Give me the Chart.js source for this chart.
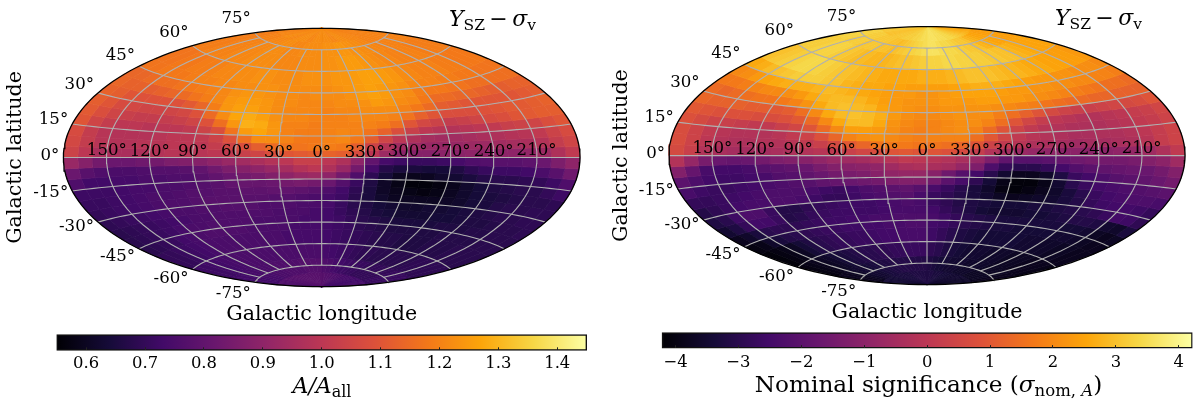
<!DOCTYPE html>
<html>
<head>
<meta charset="utf-8">
<title>Sky maps</title>
<script src="https://cdn.jsdelivr.net/npm/chart.js@4"></script>
<style>
body { margin: 0; background: #fff; }
#page { position: relative; width: 1200px; height: 407px; overflow: hidden; }
canvas { position: absolute; }
</style>
</head>
<body>
<div id="page">
<canvas id="mapLeft" style="left:0;top:0"></canvas>
<canvas id="mapRight" style="left:600px;top:0"></canvas>
<canvas id="barLeft" style="left:0;top:325px"></canvas>
<canvas id="barRight" style="left:600px;top:325px"></canvas>
</div>
<script>
// cell centres and band edges, degrees. longitude runs left to right across the map
const lonBands = [-175,-165,-155,-145,-135,-125,-115,-105,-95,-85,-75,-65,-55,-45,-35,-25,-15,-5,5,15,25,35,45,55,65,75,85,95,105,115,125,135,145,155,165,175];
const latEdges = [90,80,70,60,50,45,40,35,30,25,20,15,10,5,0,-5,-10,-15,-20,-25,-30,-35,-40,-45,-50,-60,-70,-80,-90];
const lonTicks = [150,120,90,60,30,0,330,300,270,240,210];
const latTicks = [75,60,45,30,15,0,-15,-30,-45,-60,-75];
const ampTicks = [0.6,0.7,0.8,0.9,1.0,1.1,1.2,1.3,1.4];
const sigTicks = [-4,-3,-2,-1,0,1,2,3,4];

// A/A_all per band
const ampN85 = [1.20,1.20,1.21,1.21,1.21,1.22,1.22,1.21,1.21,1.22,1.22,1.22,1.22,1.21,1.21,1.22,1.22,1.22,1.22,1.22,1.22,1.21,1.21,1.22,1.22,1.22,1.21,1.21,1.21,1.21,1.20,1.20,1.20,1.20,1.20,1.20];
const ampN75 = [1.19,1.19,1.20,1.20,1.20,1.21,1.21,1.21,1.22,1.22,1.22,1.21,1.21,1.21,1.22,1.22,1.22,1.22,1.23,1.23,1.23,1.24,1.24,1.23,1.23,1.22,1.22,1.21,1.21,1.20,1.20,1.20,1.20,1.20,1.20,1.20];
const ampN65 = [1.19,1.19,1.20,1.20,1.20,1.21,1.21,1.21,1.22,1.22,1.22,1.22,1.21,1.21,1.21,1.22,1.22,1.22,1.23,1.23,1.24,1.25,1.25,1.24,1.23,1.22,1.21,1.21,1.20,1.20,1.20,1.20,1.19,1.19,1.19,1.19];
const ampN55 = [1.17,1.17,1.18,1.18,1.19,1.19,1.20,1.21,1.21,1.22,1.22,1.23,1.23,1.22,1.22,1.22,1.23,1.23,1.23,1.24,1.24,1.25,1.26,1.26,1.25,1.24,1.22,1.21,1.20,1.20,1.20,1.19,1.19,1.18,1.18,1.18];
const ampN47 = [1.17,1.17,1.18,1.18,1.18,1.19,1.20,1.20,1.21,1.21,1.22,1.22,1.23,1.23,1.22,1.22,1.22,1.22,1.22,1.23,1.24,1.25,1.26,1.25,1.24,1.23,1.21,1.20,1.20,1.19,1.19,1.18,1.18,1.17,1.17,1.17];
const ampN42 = [1.14,1.14,1.15,1.16,1.16,1.17,1.18,1.19,1.20,1.21,1.23,1.24,1.24,1.23,1.22,1.22,1.21,1.22,1.22,1.22,1.23,1.25,1.26,1.25,1.23,1.22,1.19,1.18,1.18,1.17,1.17,1.16,1.16,1.16,1.16,1.16];
const ampN37 = [1.14,1.13,1.13,1.12,1.13,1.14,1.15,1.17,1.19,1.21,1.24,1.25,1.25,1.24,1.22,1.22,1.21,1.21,1.21,1.22,1.22,1.23,1.25,1.24,1.22,1.21,1.18,1.15,1.15,1.14,1.14,1.13,1.12,1.12,1.13,1.13];
const ampN32 = [1.13,1.12,1.10,1.09,1.09,1.09,1.09,1.11,1.14,1.19,1.24,1.26,1.26,1.24,1.22,1.21,1.21,1.21,1.20,1.21,1.21,1.22,1.22,1.22,1.20,1.18,1.15,1.12,1.11,1.10,1.10,1.10,1.10,1.10,1.11,1.12];
const ampN27 = [1.12,1.10,1.07,1.06,1.05,1.05,1.05,1.06,1.09,1.15,1.22,1.27,1.28,1.26,1.23,1.21,1.21,1.20,1.20,1.20,1.21,1.21,1.21,1.20,1.17,1.13,1.10,1.08,1.08,1.08,1.09,1.10,1.11,1.11,1.12,1.13];
const ampN22 = [1.11,1.08,1.05,1.03,1.02,1.02,1.02,1.03,1.05,1.09,1.16,1.24,1.29,1.28,1.24,1.20,1.20,1.19,1.20,1.20,1.20,1.20,1.19,1.16,1.10,1.06,1.04,1.02,1.03,1.05,1.07,1.08,1.10,1.11,1.12,1.12];
const ampN17 = [1.10,1.05,1.02,1.00,1.00,0.99,1.00,1.00,1.01,1.04,1.08,1.17,1.25,1.27,1.24,1.20,1.19,1.19,1.20,1.21,1.20,1.17,1.13,1.08,1.03,1.00,0.99,0.98,0.99,1.00,1.01,1.03,1.04,1.05,1.08,1.10];
const ampN12 = [1.07,1.02,0.99,0.98,0.98,0.98,0.99,1.00,1.00,1.01,1.04,1.09,1.16,1.22,1.22,1.20,1.18,1.18,1.20,1.21,1.18,1.12,1.05,1.00,0.97,0.95,0.94,0.94,0.95,0.96,0.97,0.98,0.99,1.01,1.04,1.07];
const ampN07 = [1.06,1.02,0.99,0.98,0.98,0.99,0.99,1.00,1.00,1.00,1.02,1.05,1.08,1.12,1.15,1.17,1.17,1.18,1.19,1.18,1.12,1.04,0.98,0.94,0.93,0.92,0.92,0.92,0.93,0.93,0.94,0.95,0.96,0.98,1.02,1.05];
const ampN02 = [1.04,1.00,0.96,0.96,0.96,0.97,0.98,0.99,0.99,0.99,1.00,1.01,1.03,1.05,1.08,1.10,1.11,1.12,1.13,1.12,1.07,1.00,0.93,0.89,0.88,0.88,0.89,0.89,0.90,0.90,0.90,0.90,0.91,0.93,0.97,1.01];
const ampS02 = [0.92,0.88,0.84,0.82,0.82,0.83,0.84,0.86,0.87,0.88,0.90,0.92,0.94,0.96,0.98,1.00,1.03,1.03,1.00,0.97,0.90,0.80,0.74,0.72,0.71,0.71,0.72,0.74,0.76,0.77,0.78,0.78,0.79,0.82,0.86,0.90];
const ampS07 = [0.82,0.78,0.76,0.75,0.75,0.76,0.77,0.77,0.78,0.80,0.83,0.86,0.88,0.90,0.92,0.95,0.98,1.00,0.97,0.92,0.84,0.74,0.67,0.65,0.65,0.64,0.64,0.66,0.69,0.71,0.72,0.72,0.73,0.75,0.78,0.83];
const ampS12 = [0.76,0.73,0.73,0.74,0.74,0.75,0.75,0.76,0.76,0.78,0.80,0.82,0.84,0.85,0.87,0.90,0.92,0.93,0.90,0.84,0.76,0.69,0.64,0.60,0.59,0.60,0.62,0.63,0.65,0.67,0.68,0.68,0.69,0.70,0.72,0.76];
const ampS17 = [0.72,0.72,0.72,0.73,0.74,0.74,0.75,0.75,0.76,0.77,0.78,0.80,0.81,0.81,0.82,0.84,0.85,0.84,0.82,0.77,0.71,0.66,0.61,0.58,0.56,0.56,0.57,0.59,0.62,0.64,0.66,0.67,0.68,0.68,0.70,0.72];
const ampS22 = [0.71,0.71,0.72,0.73,0.74,0.75,0.75,0.76,0.77,0.77,0.78,0.78,0.79,0.79,0.80,0.80,0.79,0.78,0.76,0.73,0.69,0.65,0.61,0.59,0.58,0.57,0.58,0.60,0.62,0.64,0.65,0.66,0.67,0.68,0.68,0.69];
const ampS27 = [0.70,0.71,0.72,0.73,0.74,0.75,0.76,0.76,0.77,0.78,0.78,0.78,0.78,0.78,0.77,0.77,0.76,0.75,0.74,0.72,0.68,0.65,0.62,0.60,0.60,0.60,0.60,0.61,0.62,0.64,0.65,0.67,0.68,0.68,0.69,0.69];
const ampS32 = [0.69,0.70,0.71,0.72,0.73,0.74,0.75,0.75,0.76,0.76,0.77,0.77,0.77,0.76,0.76,0.76,0.75,0.75,0.74,0.71,0.68,0.66,0.64,0.63,0.62,0.62,0.63,0.63,0.64,0.65,0.66,0.67,0.68,0.68,0.69,0.69];
const ampS37 = [0.68,0.69,0.70,0.71,0.72,0.73,0.74,0.75,0.75,0.76,0.76,0.76,0.76,0.76,0.75,0.75,0.75,0.74,0.73,0.71,0.69,0.67,0.65,0.64,0.63,0.63,0.63,0.64,0.64,0.65,0.66,0.66,0.67,0.68,0.68,0.69];
const ampS42 = [0.68,0.69,0.70,0.71,0.72,0.74,0.75,0.75,0.76,0.76,0.76,0.76,0.75,0.75,0.75,0.75,0.74,0.74,0.73,0.72,0.70,0.68,0.67,0.66,0.65,0.65,0.65,0.65,0.66,0.66,0.66,0.67,0.67,0.68,0.68,0.68];
const ampS47 = [0.68,0.69,0.70,0.71,0.73,0.74,0.75,0.76,0.76,0.76,0.76,0.75,0.75,0.75,0.75,0.74,0.74,0.74,0.73,0.72,0.71,0.69,0.68,0.67,0.66,0.66,0.66,0.66,0.66,0.67,0.67,0.67,0.67,0.68,0.68,0.68];
const ampS55 = [0.70,0.70,0.71,0.72,0.73,0.74,0.75,0.75,0.75,0.75,0.75,0.75,0.75,0.75,0.74,0.74,0.74,0.74,0.73,0.72,0.71,0.70,0.69,0.68,0.67,0.67,0.66,0.66,0.66,0.67,0.67,0.67,0.68,0.68,0.68,0.68];
const ampS65 = [0.72,0.72,0.73,0.73,0.74,0.74,0.75,0.75,0.75,0.75,0.75,0.75,0.75,0.75,0.75,0.75,0.75,0.75,0.74,0.73,0.72,0.71,0.70,0.69,0.69,0.68,0.68,0.68,0.68,0.68,0.68,0.69,0.69,0.69,0.69,0.69];
const ampS75 = [0.73,0.73,0.73,0.74,0.74,0.74,0.75,0.75,0.75,0.76,0.76,0.76,0.76,0.76,0.77,0.77,0.77,0.77,0.76,0.75,0.74,0.73,0.72,0.72,0.71,0.71,0.70,0.70,0.70,0.70,0.70,0.70,0.71,0.71,0.71,0.71];
const ampS85 = [0.76,0.76,0.76,0.76,0.77,0.77,0.77,0.77,0.78,0.78,0.78,0.78,0.78,0.78,0.78,0.78,0.78,0.78,0.78,0.77,0.77,0.76,0.76,0.75,0.75,0.74,0.74,0.74,0.74,0.73,0.73,0.73,0.73,0.74,0.74,0.74];
const ampRows = [ampN85,ampN75,ampN65,ampN55,ampN47,ampN42,ampN37,ampN32,ampN27,ampN22,ampN17,ampN12,ampN07,ampN02,ampS02,ampS07,ampS12,ampS17,ampS22,ampS27,ampS32,ampS37,ampS42,ampS47,ampS55,ampS65,ampS75,ampS85];

// nominal significance per band
const sigN85 = [3.1,3.1,3.1,3.0,3.0,3.0,3.05,3.1,3.1,3.1,3.2,3.2,3.2,3.3,3.3,3.4,3.5,3.5,3.6,3.6,3.6,3.5,3.5,3.5,3.4,3.4,3.3,3.2,3.1,3.0,2.9,2.8,2.7,2.6,2.5,2.5];
const sigN75 = [3.3,3.3,3.2,3.2,3.2,3.1,3.1,3.1,3.1,3.0,3.0,2.9,3.0,3.1,3.2,3.3,3.4,3.5,3.6,3.6,3.5,3.4,3.4,3.3,3.2,3.1,3.1,3.0,2.8,2.7,2.6,2.5,2.5,2.4,2.4,2.4];
const sigN65 = [3.2,3.2,3.3,3.3,3.3,3.2,3.1,3.0,2.9,2.9,2.8,2.8,2.8,2.9,3.0,3.0,3.1,3.2,3.3,3.3,3.4,3.4,3.3,3.3,3.2,3.2,3.1,3.1,3.0,3.0,2.8,2.7,2.6,2.5,2.5,2.5];
const sigN55 = [3.0,3.1,3.2,3.3,3.4,3.4,3.3,3.2,3.1,3.0,2.9,2.8,2.7,2.6,2.6,2.6,2.6,2.7,2.7,2.7,2.8,2.9,3.0,3.0,3.0,2.9,2.8,2.8,2.7,2.6,2.6,2.5,2.5,2.4,2.4,2.3];
const sigN47 = [2.6,2.7,2.9,3.0,3.1,3.2,3.2,3.2,3.1,3.0,2.8,2.7,2.6,2.6,2.5,2.5,2.4,2.4,2.4,2.4,2.5,2.6,2.7,2.7,2.7,2.6,2.5,2.4,2.3,2.3,2.2,2.2,2.1,2.1,2.1,2.0];
const sigN42 = [2.0,2.1,2.3,2.5,2.6,2.7,2.7,2.7,2.8,2.9,2.8,2.7,2.6,2.5,2.4,2.3,2.3,2.2,2.2,2.3,2.4,2.5,2.5,2.5,2.4,2.3,2.3,2.2,2.2,2.1,2.1,2.0,2.0,1.9,1.9,1.8];
const sigN37 = [1.7,1.7,1.8,1.9,2.0,2.0,2.1,2.3,2.6,2.8,2.9,2.9,2.8,2.6,2.4,2.3,2.2,2.2,2.2,2.3,2.3,2.3,2.4,2.4,2.3,2.3,2.2,2.1,2.0,1.9,1.8,1.7,1.6,1.5,1.5,1.4];
const sigN32 = [1.4,1.3,1.4,1.5,1.6,1.6,1.7,1.9,2.2,2.6,2.9,3.0,2.9,2.8,2.5,2.3,2.2,2.1,2.1,2.2,2.2,2.2,2.2,2.1,2.0,1.9,1.8,1.6,1.5,1.4,1.4,1.3,1.3,1.2,1.2,1.2];
const sigN27 = [1.3,1.2,1.2,1.2,1.1,1.1,1.0,1.1,1.5,2.0,2.6,2.9,3.0,2.9,2.7,2.3,2.1,2.0,2.0,2.1,2.2,2.1,2.1,1.8,1.5,1.2,0.9,0.6,0.4,0.3,0.3,0.4,0.5,0.6,0.7,0.9];
const sigN22 = [1.0,0.9,0.8,0.8,0.8,0.7,0.7,0.8,1.0,1.4,2.0,2.6,2.9,2.9,2.6,2.2,2.0,1.9,1.9,2.0,2.1,2.1,1.9,1.5,0.9,0.5,0.2,0.0,-0.1,-0.2,-0.2,-0.1,0.0,0.2,0.3,0.5];
const sigN17 = [0.8,0.6,0.4,0.3,0.2,0.1,0.1,0.3,0.5,0.9,1.4,2.0,2.4,2.4,2.3,2.1,1.9,1.8,1.9,2.0,2.1,1.9,1.4,0.9,0.4,0.1,-0.1,-0.2,-0.3,-0.3,-0.3,-0.2,-0.1,0.1,0.2,0.4];
const sigN12 = [0.7,0.4,0.1,-0.1,-0.2,-0.2,-0.2,-0.1,0.1,0.4,0.8,1.3,1.9,2.1,2.2,2.0,1.9,1.8,1.9,1.9,1.9,1.5,1.0,0.5,0.1,-0.1,-0.2,-0.3,-0.4,-0.4,-0.3,-0.3,-0.2,0.0,0.2,0.4];
const sigN07 = [0.7,0.4,0.0,-0.2,-0.3,-0.3,-0.2,-0.2,-0.1,0.1,0.3,0.6,1.0,1.3,1.6,1.7,1.7,1.6,1.6,1.5,1.3,0.9,0.4,0.1,-0.1,-0.3,-0.4,-0.5,-0.6,-0.5,-0.5,-0.4,-0.3,-0.1,0.2,0.4];
const sigN02 = [0.6,0.3,-0.2,-0.4,-0.5,-0.5,-0.5,-0.4,-0.3,-0.2,-0.1,0.1,0.3,0.5,0.7,0.9,1.0,0.9,0.9,0.8,0.6,0.2,-0.2,-0.5,-0.7,-0.8,-0.9,-1.0,-1.0,-1.0,-1.0,-0.9,-0.8,-0.6,-0.3,0.1];
const sigS02 = [-0.2,-0.8,-1.4,-1.7,-1.8,-1.7,-1.5,-1.3,-1.2,-1.1,-0.9,-0.7,-0.6,-0.5,-0.3,-0.1,0.1,0.0,-0.1,-0.2,-0.4,-0.8,-1.3,-1.9,-2.1,-2.1,-2.0,-1.8,-1.6,-1.5,-1.5,-1.5,-1.4,-1.2,-1.0,-0.6];
const sigS07 = [-1.2,-1.8,-2.4,-2.5,-2.5,-2.4,-2.1,-2.0,-1.9,-1.7,-1.4,-1.2,-1.1,-1.0,-0.9,-0.6,-0.4,-0.3,-0.4,-0.5,-0.8,-1.3,-2.3,-2.8,-3.0,-3.0,-2.8,-2.5,-2.2,-2.0,-1.9,-1.8,-1.7,-1.7,-1.5,-1.2];
const sigS12 = [-2.0,-2.3,-2.5,-2.6,-2.6,-2.5,-2.4,-2.2,-2.1,-1.9,-1.7,-1.5,-1.4,-1.3,-1.1,-0.9,-0.8,-0.8,-1.1,-1.6,-2.1,-2.5,-3.0,-3.5,-3.8,-3.8,-3.6,-3.2,-2.7,-2.5,-2.3,-2.1,-2.0,-1.9,-1.7,-1.5];
const sigS17 = [-2.4,-2.6,-2.7,-2.7,-2.6,-2.5,-2.4,-2.3,-2.2,-2.1,-1.9,-1.8,-1.7,-1.6,-1.5,-1.3,-1.2,-1.2,-1.5,-2.0,-2.4,-2.9,-3.4,-3.9,-4.1,-4.1,-3.9,-3.5,-3.0,-2.7,-2.5,-2.4,-2.3,-2.2,-2.1,-2.0];
const sigS22 = [-2.8,-2.8,-2.7,-2.6,-2.5,-2.4,-2.3,-2.3,-2.3,-2.4,-2.6,-2.7,-2.5,-2.3,-2.2,-2.0,-1.9,-2.1,-2.4,-2.7,-3.0,-3.3,-3.6,-4.0,-4.1,-4.0,-3.8,-3.6,-3.3,-3.0,-2.7,-2.5,-2.4,-2.3,-2.3,-2.4];
const sigS27 = [-3.1,-2.9,-2.7,-2.5,-2.4,-2.4,-2.3,-2.3,-2.4,-2.6,-2.8,-2.8,-2.6,-2.4,-2.3,-2.2,-2.1,-2.4,-2.7,-2.9,-3.1,-3.3,-3.5,-3.7,-3.8,-3.7,-3.6,-3.5,-3.3,-3.1,-2.8,-2.6,-2.5,-2.5,-2.6,-2.8];
const sigS32 = [-3.2,-3.0,-2.6,-2.3,-2.3,-2.7,-3.1,-3.1,-2.9,-2.8,-2.7,-2.6,-2.6,-2.6,-2.5,-2.4,-2.3,-2.4,-2.7,-2.9,-3.1,-3.2,-3.3,-3.4,-3.4,-3.4,-3.3,-3.3,-3.2,-3.1,-3.0,-2.9,-2.7,-2.5,-2.6,-2.9];
const sigS37 = [-3.5,-3.2,-2.8,-2.5,-2.5,-2.7,-3.1,-3.0,-2.8,-2.7,-2.6,-2.6,-2.6,-2.6,-2.5,-2.4,-2.4,-2.4,-2.5,-2.8,-3.0,-3.2,-3.4,-3.5,-3.5,-3.5,-3.4,-3.4,-3.3,-3.2,-3.1,-3.1,-3.2,-3.5,-3.6,-3.3];
const sigS42 = [-3.8,-3.6,-3.3,-3.0,-2.9,-2.9,-2.9,-2.8,-2.7,-2.6,-2.6,-2.5,-2.5,-2.4,-2.4,-2.3,-2.3,-2.3,-2.4,-2.6,-2.8,-3.0,-3.1,-3.2,-3.3,-3.3,-3.3,-3.3,-3.3,-3.3,-3.4,-3.4,-3.5,-3.7,-3.8,-3.7];
const sigS47 = [-4.0,-3.9,-3.6,-3.3,-3.1,-3.0,-2.9,-2.8,-2.7,-2.7,-2.6,-2.6,-2.5,-2.5,-2.4,-2.4,-2.3,-2.3,-2.5,-2.6,-2.8,-3.0,-3.1,-3.2,-3.3,-3.3,-3.4,-3.4,-3.4,-3.4,-3.5,-3.5,-3.6,-3.7,-3.8,-3.8];
const sigS55 = [-4.1,-4.0,-3.9,-3.7,-3.4,-3.2,-3.0,-2.9,-2.8,-2.8,-2.7,-2.7,-2.6,-2.5,-2.5,-2.4,-2.4,-2.4,-2.6,-2.8,-3.0,-3.2,-3.3,-3.4,-3.4,-3.4,-3.4,-3.4,-3.5,-3.5,-3.6,-3.6,-3.7,-3.7,-3.8,-3.8];
const sigS65 = [-4.0,-3.9,-3.8,-3.7,-3.6,-3.4,-3.3,-3.2,-3.1,-3.0,-3.0,-2.9,-2.9,-2.8,-2.8,-2.7,-2.7,-2.7,-2.9,-3.0,-3.2,-3.3,-3.4,-3.5,-3.5,-3.5,-3.6,-3.6,-3.6,-3.7,-3.7,-3.7,-3.8,-3.8,-3.8,-3.9];
const sigS75 = [-3.8,-3.8,-3.7,-3.6,-3.5,-3.5,-3.4,-3.3,-3.3,-3.2,-3.2,-3.1,-3.1,-3.1,-3.1,-3.1,-3.1,-3.1,-3.2,-3.3,-3.4,-3.4,-3.5,-3.5,-3.5,-3.6,-3.6,-3.6,-3.6,-3.7,-3.7,-3.7,-3.7,-3.7,-3.8,-3.8];
const sigS85 = [-3.4,-3.4,-3.4,-3.4,-3.4,-3.4,-3.3,-3.3,-3.3,-3.3,-3.3,-3.3,-3.2,-3.2,-3.2,-3.2,-3.2,-3.2,-3.2,-3.2,-3.3,-3.3,-3.3,-3.4,-3.4,-3.4,-3.5,-3.5,-3.5,-3.5,-3.5,-3.6,-3.6,-3.6,-3.6,-3.6];
const sigRows = [sigN85,sigN75,sigN65,sigN55,sigN47,sigN42,sigN37,sigN32,sigN27,sigN22,sigN17,sigN12,sigN07,sigN02,sigS02,sigS07,sigS12,sigS17,sigS22,sigS27,sigS32,sigS37,sigS42,sigS47,sigS55,sigS65,sigS75,sigS85];

const inferno = ['#000004','#160b39','#420a68','#6a176e','#932667','#bc3754','#dd513a','#f37819','#fca50a','#f6d746','#fcffa4'];

const SERIF = '"DejaVu Serif"';
Chart.defaults.font.family = SERIF;
Chart.defaults.color = '#000';

function colorFor(value, min, max) {
    let t = Math.min(1, Math.max(0, (value - min) / (max - min))) * (inferno.length - 1);
    let i = Math.min(inferno.length - 2, Math.floor(t));
    let a = inferno[i], b = inferno[i + 1], f = t - i;
    let mix = [1, 3, 5].map(p => {
        let ca = parseInt(a.substr(p, 2), 16), cb = parseInt(b.substr(p, 2), 16);
        return Math.round(ca + (cb - ca) * f);
    });
    return 'rgb(' + mix.join(',') + ')';
}

// aitoff projection, degrees in, plot units out
function project(lon, lat) {
    let l = lon * Math.PI / 180, p = lat * Math.PI / 180;
    let alpha = Math.acos(Math.cos(p) * Math.cos(l / 2));
    let sinc = alpha < 1e-6 ? 1 : Math.sin(alpha) / alpha;
    return { x: 2 * Math.cos(p) * Math.sin(l / 2) / sinc, y: Math.sin(p) / sinc };
}

function cellShape(lon, top, bottom) {
    let pts = [];
    for (let d = -5; d <= 5; d += 5) pts.push(project(lon + d, bottom));
    for (let d = 5; d >= -5; d -= 5) pts.push(project(lon + d, top));
    pts.push(pts[0]);
    return pts;
}

function lineData(fn, from, to, step) {
    let pts = [];
    for (let v = from; v <= to; v += step) pts.push(fn(v));
    return pts;
}

function lineSet(points, color, width) {
    return { data: points, showLine: true, borderColor: color, borderWidth: width, pointRadius: 0, fill: false, tension: 0, clip: false };
}

// writes a row of mixed font pieces, centred or from the left
function drawRuns(ctx, runs, x, y, centred) {
    ctx.save();
    ctx.textAlign = 'left';
    ctx.textBaseline = 'alphabetic';
    ctx.fillStyle = '#000';
    let total = 0;
    runs.forEach(r => { ctx.font = r.font; total += ctx.measureText(r.text).width; });
    let cx = centred ? x - total / 2 : x;
    runs.forEach(r => {
        ctx.font = r.font;
        ctx.fillText(r.text, cx, y + (r.dy || 0));
        cx += ctx.measureText(r.text).width;
    });
    ctx.restore();
}

const mapLabels = {
    id: 'mapLabels',
    afterDatasetsDraw(chart) {
        let ctx = chart.ctx, sx = chart.scales.x, sy = chart.scales.y;
        ctx.save();
        ctx.fillStyle = '#000';
        ctx.font = '16.6px ' + SERIF;
        ctx.textAlign = 'center';
        ctx.textBaseline = 'middle';
        lonTicks.forEach(l => {
            let p = project(l <= 180 ? -l : 360 - l, 3.6);
            ctx.fillText(l + '°', sx.getPixelForValue(p.x), sy.getPixelForValue(p.y));
        });
        ctx.textAlign = 'right';
        latTicks.forEach(b => {
            let p = project(-180, b);
            let lift = 1.5 + 13 * Math.sin(b * Math.PI / 180);
            ctx.fillText(b + '°', sx.getPixelForValue(p.x) - 4, sy.getPixelForValue(p.y) - lift);
        });
        ctx.restore();
        let o = chart.options.plugins.mapLabels;
        drawRuns(ctx, [
            { text: 'Y', font: 'italic 22px ' + SERIF },
            { text: 'SZ', font: '15.5px ' + SERIF, dy: 4 },
            { text: '\u2009−\u2009', font: '22px ' + SERIF },
            { text: 'σ', font: 'italic 22px ' + SERIF },
            { text: 'v', font: '15.5px ' + SERIF, dy: 4 }
        ], o.noteX, o.noteY, false);
    }
};

const barTitle = {
    id: 'barTitle',
    afterDraw(chart) {
        let o = chart.options.plugins.barTitle;
        drawRuns(chart.ctx, o.runs, o.x, o.y, true);
    }
};

function drawMap(id, rows, min, max, box) {
    let canvas = document.getElementById(id);
    canvas.width = 600;
    canvas.height = box.height;
    let sets = [];
    sets.push(lineSet(lineData(b => project(-180, b), -90, 90, 2).concat(lineData(b => project(180, b), -90, 90, 2).reverse()), '#000', 1.3));
    latTicks.forEach(b => sets.push(lineSet(lineData(l => project(l, b), -180, 180, 4), '#b0b0b0', 1.1)));
    lonTicks.forEach(t => {
        let l = t <= 180 ? -t : 360 - t;
        sets.push(lineSet(lineData(b => project(l, b), -75, 75, 3), '#b0b0b0', 1.1));
    });
    rows.forEach((row, r) => {
        row.forEach((v, c) => {
            let col = colorFor(v, min, max);
            sets.push({
                data: cellShape(lonBands[c], latEdges[r], latEdges[r + 1]),
                showLine: true, fill: 'shape', backgroundColor: col, borderColor: col,
                borderWidth: 0.7, borderJoinStyle: 'round', pointRadius: 0, tension: 0, clip: false
            });
        });
    });
    return new Chart(canvas, {
        type: 'scatter',
        plugins: [mapLabels],
        data: { datasets: sets },
        options: {
            responsive: false,
            animation: false,
            events: [],
            layout: { padding: { top: box.top, right: box.right } },
            plugins: {
                legend: { display: false },
                tooltip: { enabled: false },
                mapLabels: { noteX: box.noteX, noteY: box.noteY }
            },
            scales: {
                x: {
                    min: -Math.PI, max: Math.PI,
                    grid: { display: false }, border: { display: false }, ticks: { display: false },
                    title: { display: true, text: 'Galactic longitude', font: { size: 20.6 }, padding: { top: 0, bottom: box.titleBottom } },
                    afterFit(scale) { scale.height = box.height - box.bottom; }
                },
                y: {
                    min: -Math.PI / 2, max: Math.PI / 2,
                    grid: { display: false }, border: { display: false }, ticks: { display: false },
                    title: { display: true, text: 'Galactic latitude', font: { size: 20.6 }, padding: { top: box.titleLeft, bottom: 0 } },
                    afterFit(scale) { scale.width = box.left; }
                }
            }
        }
    });
}

function drawBar(id, ticks, min, max, box, runs, fmt) {
    let canvas = document.getElementById(id);
    canvas.width = 600;
    canvas.height = 82;
    return new Chart(canvas, {
        type: 'bar',
        plugins: [barTitle],
        data: {
            labels: ['scale'],
            datasets: [{
                data: [[min, max]],
                barPercentage: 1, categoryPercentage: 1,
                borderColor: '#111', borderWidth: 1.4, borderSkipped: false, clip: false,
                backgroundColor(context) {
                    let area = context.chart.chartArea;
                    if (!area) return '#000';
                    let g = context.chart.ctx.createLinearGradient(area.left, 0, area.right, 0);
                    inferno.forEach((c, i) => g.addColorStop(i / (inferno.length - 1), c));
                    return g;
                }
            }]
        },
        options: {
            indexAxis: 'y',
            responsive: false,
            animation: false,
            events: [],
            layout: { padding: { top: box.top, right: box.right } },
            plugins: {
                legend: { display: false },
                tooltip: { enabled: false },
                barTitle: { runs: runs, x: box.titleX, y: box.titleY }
            },
            scales: {
                x: {
                    type: 'linear', min: min, max: max,
                    afterBuildTicks(scale) { scale.ticks = ticks.map(v => ({ value: v })); },
                    grid: { drawOnChartArea: false, drawTicks: true, tickLength: -3, color: '#222', z: 1 },
                    border: { display: false },
                    ticks: { font: { size: 16.4 }, padding: box.tickPad, maxRotation: 0, autoSkip: false, callback: fmt },
                    afterFit(scale) { scale.height = 82 - box.top - box.height; }
                },
                y: {
                    display: false,
                    afterFit(scale) { scale.width = box.left; }
                }
            }
        }
    });
}

drawMap('mapLeft', ampRows, 0.55, 1.45, { height: 330, top: 28.3, bottom: 286.7, left: 63.4, right: 20, titleBottom: 2.6, titleLeft: 3.6, noteX: 449, noteY: 26 });
drawMap('mapRight', sigRows, -4.215, 4.215, { height: 330, top: 26.6, bottom: 284.6, left: 69, right: 15, titleBottom: 4.6, titleLeft: 9.6, noteX: 455, noteY: 25 });

const mathFont = 'italic 22px ' + SERIF;
drawBar('barLeft', ampTicks, 0.55, 1.45, { top: 9.7, height: 15.6, left: 56.7, right: 13.3, tickPad: 7, titleX: 322, titleY: 68.3 }, [
    { text: 'A/A', font: mathFont },
    { text: 'all', font: '16px ' + SERIF, dy: 4 }
], v => v.toFixed(1));
drawBar('barRight', sigTicks, -4.215, 4.215, { top: 7.7, height: 15.4, left: 62, right: 7.7, tickPad: 8, titleX: 328.5, titleY: 66.5 }, [
    { text: 'Nominal significance (', font: '23.2px ' + SERIF },
    { text: 'σ', font: 'italic 23.2px ' + SERIF },
    { text: 'nom, ', font: '16.5px ' + SERIF, dy: 4 },
    { text: 'A', font: 'italic 16.5px ' + SERIF, dy: 4 },
    { text: ')', font: '23.2px ' + SERIF }
], v => String(v).replace('-', '−'));
</script>
</body>
</html>
